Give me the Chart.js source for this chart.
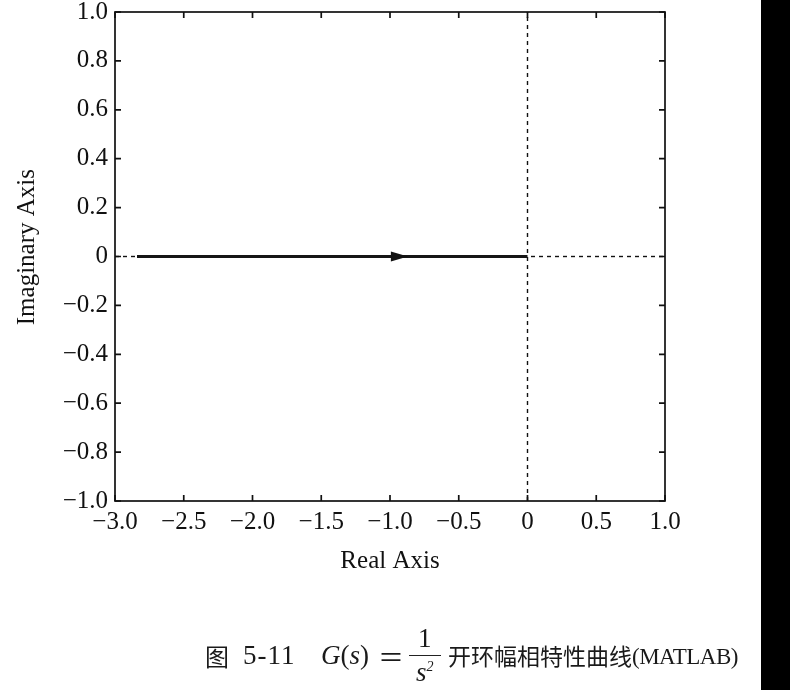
<!DOCTYPE html>
<html>
<head>
<meta charset="utf-8">
<script src="https://cdn.jsdelivr.net/npm/chart.js@4.4.0/dist/chart.umd.min.js"></script>
<style>
  html, body { margin: 0; padding: 0; background: #fff; }
  #wrap { position: relative; width: 790px; height: 690px; overflow: hidden; }
  #bar { position: absolute; left: 761px; top: 0; width: 29px; height: 690px; background: #000; }
  #caption { position: absolute; left: 0; top: 622px; width: 760px; height: 66px;
             font-family: "Liberation Serif", serif; color: #1a1a1a; white-space: nowrap; }
  #caption > span { position: absolute; top: 0; height: 66px; display: flex; align-items: center; }
  .cjk { font-family: "Noto Sans CJK SC", sans-serif; font-size: 23px; }
  .lat { font-size: 27px; }
  .it { font-style: italic; }
  .frac { flex-direction: column; justify-content: center; line-height: 1; font-size: 27px; }
  .frac .num { border-bottom: 1.5px solid #222; padding: 0 9px 3px; text-align: center; }
  .frac .den { padding-top: 3px; font-style: italic; text-align: center; }
  sup { font-size: 14px; }
</style>
</head>
<body>
<div id="wrap">
  <canvas id="nyquist" width="790" height="690"></canvas>
  <div id="bar"></div>
  <div id="caption">
    <span class="cjk" style="left:205px;font-size:24px">图</span>
    <span class="lat" style="left:243px;letter-spacing:1px">5-11</span>
    <span class="lat" style="left:321px"><span class="it">G</span>(<span class="it">s</span>)</span>
    <span class="cjk" style="left:378px;font-size:26px">＝</span>
    <span class="frac" style="left:409px"><span class="num">1</span><span class="den">s<sup>2</sup></span></span>
    <span class="cjk" style="left:448px">开环幅相特性曲线</span>
    <span style="left:632px;font-size:23px;letter-spacing:-0.5px;padding-top:2px">(MATLAB)</span>
  </div>
</div>
<script>
// Nyquist plot of G(s) = 1/s^2 (positive frequencies)
var realPart = [-2.84, -1.6, -0.87, -0.3, 0];
var imagPart = [0, 0, 0, 0, 0];
var arrowTip = [-0.87, 0];

var xTicks = [-3.0, -2.5, -2.0, -1.5, -1.0, -0.5, 0, 0.5, 1.0];
var xTickLabels = ['\u22123.0', '\u22122.5', '\u22122.0', '\u22121.5', '\u22121.0', '\u22120.5', '0', '0.5', '1.0'];
var yTicks = [-1.0, -0.8, -0.6, -0.4, -0.2, 0, 0.2, 0.4, 0.6, 0.8, 1.0];
var yTickLabels = ['\u22121.0', '\u22120.8', '\u22120.6', '\u22120.4', '\u22120.2', '0', '0.2', '0.4', '0.6', '0.8', '1.0'];

var serif = '"Liberation Serif", "Times New Roman", serif';

// box with ticks pointing inward on all four sides, plus the direction arrow
var frameTicks = {
    id: 'frameTicks',
    afterDraw: function(chart) {
        var ctx = chart.ctx, a = chart.chartArea;
        var x = chart.scales.x, y = chart.scales.y;
        ctx.save();
        ctx.strokeStyle = '#111';
        ctx.lineWidth = 1.7;
        ctx.strokeRect(a.left, a.top, a.right - a.left, a.bottom - a.top);
        ctx.beginPath();
        xTicks.forEach(function(v) {
            var px = x.getPixelForValue(v);
            ctx.moveTo(px, a.bottom); ctx.lineTo(px, a.bottom - 6);
            ctx.moveTo(px, a.top); ctx.lineTo(px, a.top + 6);
        });
        yTicks.forEach(function(v) {
            var py = y.getPixelForValue(v);
            ctx.moveTo(a.left, py); ctx.lineTo(a.left + 6, py);
            ctx.moveTo(a.right, py); ctx.lineTo(a.right - 6, py);
        });
        ctx.stroke();

        var tx = x.getPixelForValue(arrowTip[0]), ty = y.getPixelForValue(arrowTip[1]);
        ctx.fillStyle = '#111';
        ctx.beginPath();
        ctx.moveTo(tx, ty);
        ctx.lineTo(tx - 17, ty - 5);
        ctx.lineTo(tx - 17, ty + 5);
        ctx.closePath();
        ctx.fill();
        ctx.restore();
    }
};

var ctx = document.getElementById('nyquist').getContext('2d');
var myChart = new Chart(ctx, {
    type: 'scatter',
    data: {
        datasets: [{
            label: 'G(jw)',
            data: realPart.map(function(r, i) { return {x: r, y: imagPart[i]}; }),
            showLine: true,
            borderColor: '#151515',
            borderWidth: 3,
            pointRadius: 0
        },
        {
            label: 'real axis',
            data: [{x: -3, y: 0}, {x: 1, y: 0}],
            showLine: true,
            borderColor: '#111',
            borderWidth: 1.4,
            borderDash: [4, 4],
            pointRadius: 0
        },
        {
            label: 'imag axis',
            data: [{x: 0, y: -1}, {x: 0, y: 1}],
            showLine: true,
            borderColor: '#111',
            borderWidth: 1.4,
            borderDash: [4, 4],
            pointRadius: 0
        }]
    },
    options: {
        responsive: false,
        animation: false,
        devicePixelRatio: 1,
        layout: { padding: { left: 0, right: 125, top: 12, bottom: 114 } },
        plugins: { legend: { display: false }, tooltip: { enabled: false } },
        scales: {
            x: {
                type: 'linear', min: -3, max: 1,
                afterBuildTicks: function(s) { s.ticks = xTicks.map(function(v) { return {value: v}; }); },
                afterFit: function(s) { s.height = 75; s.paddingLeft = 0; s.paddingRight = 0; },
                grid: { display: false, drawTicks: false },
                border: { display: false },
                ticks: {
                    padding: 6, color: '#111', maxRotation: 0, autoSkip: false,
                    font: { family: serif, size: 25 },
                    callback: function(v, i) { return xTickLabels[i]; }
                },
                title: { display: true, text: 'Real Axis', color: '#111',
                         font: { family: serif, size: 25 }, padding: { top: 0, bottom: 0 } }
            },
            y: {
                type: 'linear', min: -1, max: 1,
                afterBuildTicks: function(s) { s.ticks = yTicks.map(function(v) { return {value: v}; }); },
                afterFit: function(s) { s.width = 115; s.paddingTop = 0; s.paddingBottom = 0; },
                grid: { display: false, drawTicks: false },
                border: { display: false },
                ticks: {
                    padding: 7, color: '#111', autoSkip: false,
                    font: { family: serif, size: 25 },
                    callback: function(v, i) { return yTickLabels[i]; }
                },
                title: { display: true, text: '\u00a0\u00a0\u00a0Imaginary Axis', color: '#111',
                         font: { family: serif, size: 25 }, padding: { top: 12, bottom: 0 } }
            }
        }
    },
    plugins: [frameTicks]
});
</script>
</body>
</html>
